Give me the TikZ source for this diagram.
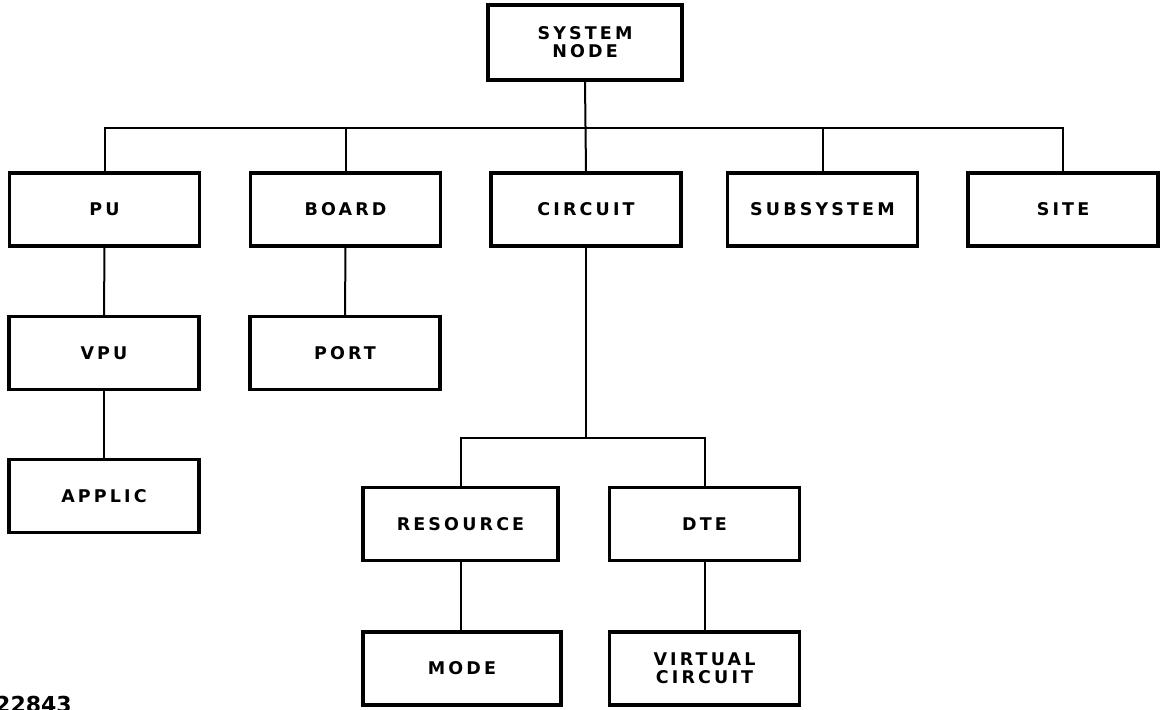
\documentclass[tikz,border=0pt]{standalone}
\usepackage{fontspec}
\newfontfamily\boxfont{DejaVu Sans}[LetterSpace=18]
\newfontfamily\tagfont{DejaVu Sans}
\begin{document}
\begin{tikzpicture}[x=1pt,y=-1pt,
  box/.style={draw, line width=3.2pt, minimum width=190pt, minimum height=73pt,
    inner sep=0pt, align=center,
    font=\boxfont\bfseries\fontsize{17.5}{18}\selectfont},
  link/.style={line width=2pt}]
\useasboundingbox (0,0) rectangle (1163,710);

% level 0
\node[box, minimum width=194pt, minimum height=75pt] (sys) at (585,42.5) {SYSTEM\\NODE};

% level 1
\node[box] (pu)   at (104.5,209.5) {PU};
\node[box] (brd)  at (345.5,209.5) {BOARD};
\node[box] (circ) at (586,209.5)   {CIRCUIT};
\node[box] (sub)  at (822.5,209.5) {SUBSYSTEM};
\node[box] (site) at (1063,209.5)  {SITE};

% level 2
\node[box] (vpu)  at (104,353) {VPU};
\node[box] (port) at (345,353) {PORT};

% level 3
\node[box] (app)  at (104,496) {APPLIC};

% circuit subtree
\node[box, minimum width=195pt] (res) at (460.5,524) {RESOURCE};
\node[box] (dte) at (704.5,524) {DTE};
\node[box, minimum width=198pt] (mode) at (462,668.5) {MODE};
\node[box] (vc) at (704.5,668.5) {VIRTUAL\\CIRCUIT};

% bus heights
\coordinate (b1) at (0,128);
\coordinate (b2) at (0,438);

% top-level tree
\draw[link] (sys.south) -- (circ.north);
\draw[link] (pu.north) -- (pu.north |- b1) -- (site.north |- b1) -- (site.north);
\draw[link] (brd.north) -- (brd.north |- b1);
\draw[link] (sub.north) -- (sub.north |- b1);

% chains
\draw[link] (pu.south) -- (vpu.north);
\draw[link] (vpu.south) -- (app.north);
\draw[link] (brd.south) -- (port.north);

% circuit subtree
\draw[link] (circ.south) -- (circ.south |- b2);
\draw[link] (res.north) -- (res.north |- b2) -- (dte.north |- b2) -- (dte.north);
\draw[link] (res.south) -- (res.south |- mode.north);
\draw[link] (dte.south) -- (vc.north);

% figure number, running off the lower edge
\node[anchor=north west, inner sep=0pt, font=\tagfont\bfseries\fontsize{22}{24}\selectfont] (tag) at (-5,696) {22843};
\end{tikzpicture}
\end{document}
